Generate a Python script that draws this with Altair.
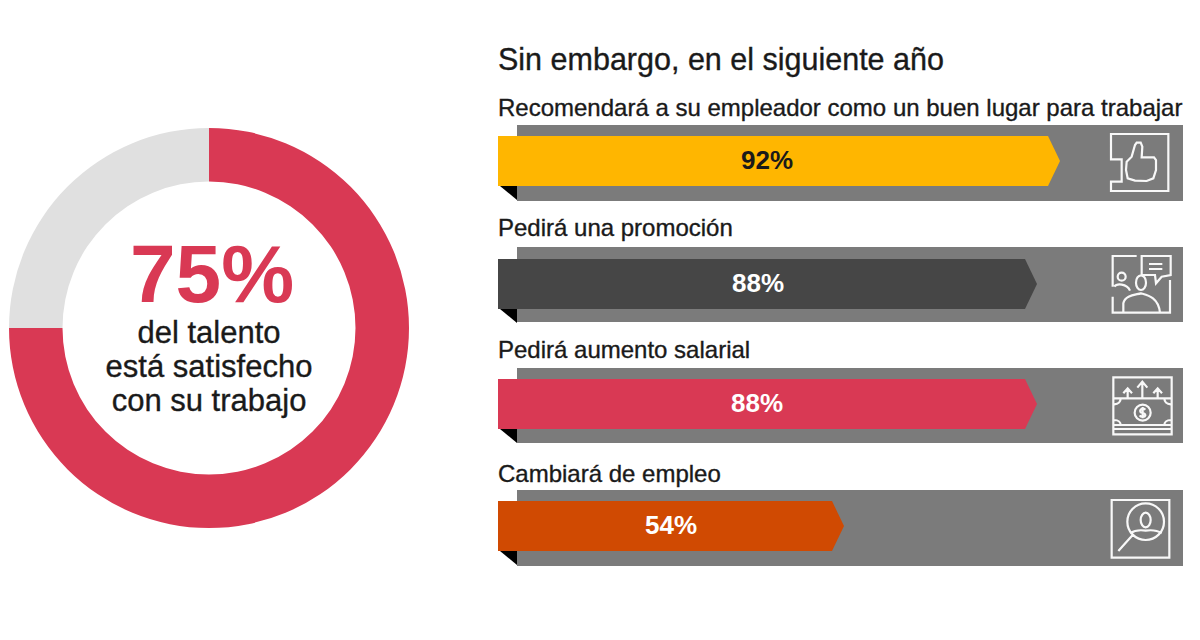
import re
import altair as alt
import pandas as pd

FONT = "Liberation Sans"
donut_labels = ["satisfecho", "resto"]
donut_values = [75, 25]
donut_colors = ["#d93954", "#e0e0e0"]

title_text = "Sin embargo, en el siguiente año"
bar_names = ["Recomendará a su empleador como un buen lugar para trabajar",
             "Pedirá una promoción", "Pedirá aumento salarial", "Cambiará de empleo"]
bar_labels = ["92%", "88%", "88%", "54%"]
bar_colors = ["#ffb600", "#464646", "#d93954", "#d04a02"]
label_colors = ["#1a1a1a", "#ffffff", "#ffffff", "#ffffff"]
bar_tips = [1060, 1037, 1037, 844]
bar_tops = [136, 259, 379, 501]
back_tops = [125, 247, 368, 490]
back_bottoms = [201, 322, 443, 566]
name_y = [116, 236, 358, 482]
label_x = [767, 758, 757, 671]


def ell(cx, cy, rx, ry):
    k = 0.5523
    return (f"M{cx-rx},{cy} C{cx-rx},{cy-k*ry} {cx-k*rx},{cy-ry} {cx},{cy-ry} "
            f"C{cx+k*rx},{cy-ry} {cx+rx},{cy-k*ry} {cx+rx},{cy} "
            f"C{cx+rx},{cy+k*ry} {cx+k*rx},{cy+ry} {cx},{cy+ry} "
            f"C{cx-k*rx},{cy+ry} {cx-rx},{cy+k*ry} {cx-rx},{cy} Z ")


def norm(path, cx, cy, half):
    def f(m):
        return f"{(float(m[1])-cx)/half:.4f},{(float(m[2])-cy)/half:.4f}"
    return re.sub(r"(-?[\d.]+),(-?[\d.]+)", f, path)


icon_thumb = ("M93,118 L93,42 L265,42 L265,213 L93,213 L93,185 L125,185 L125,118 Z "
              "M140,125 L155,110 L165,75 L170,68 L182,68 L187,80 L185,112 L222,112 L228,120 "
              "L228,150 L220,175 L200,183 L165,182 L143,175 L138,150 Z")
icon_people = ("M98,500 L98,408 L170,408 M185,408 L272,408 L272,465 L245,470 L228,490 L225,465 L185,465 Z "
               "M207,432 L247,432 M207,447 L247,447 M98,530 L98,578 L270,578 L270,480 "
               + ell(125, 470, 12, 12) + ell(183, 488, 15, 22) +
               "M103,500 C110,490 140,490 150,512 M130,578 L130,550 C135,525 165,525 183,520 "
               "C200,525 235,530 240,578")
icon_money = ("M100,37 L275,37 L275,208 L100,208 Z M100,100 L275,100 M100,180 L275,180 M100,192 L275,192 "
              "M187,97 L187,50 M172,68 L187,50 L202,68 M143,97 L143,70 M130,85 L143,70 L156,85 "
              "M233,97 L233,70 M220,85 L233,70 L246,85 "
              "M103,118 C115,118 122,110 122,100 M272,118 C260,118 253,110 253,100 "
              "M103,165 C115,165 122,172 122,180 M272,165 C260,165 253,172 253,180 "
              + ell(188, 143, 24, 24) +
              "M196,134 C190,128 178,132 181,140 C184,146 196,142 196,151 C194,158 182,156 179,151 M188,126 L188,160")
icon_search = ("M95,405 L268,405 L268,578 L95,578 Z " + ell(197, 470, 55, 55) + ell(197, 465, 15, 22) +
               "M150,505 C165,495 185,495 197,497 C210,495 230,495 245,505 M158,510 L115,558")
icons = [(icon_thumb, 179, 127), (icon_people, 185, 493), (icon_money, 187, 122), (icon_search, 181, 491)]
icon_origin = [(1080, 120), (1080, 120), (1080, 365), (1080, 365)]
HALF = 90  # half-size of icon box in zoom units

X = alt.Scale(domain=[8, 1192], nice=False, zero=False)
Y = alt.Scale(domain=[632, 8], nice=False, zero=False)


def ex(f="x"):
    return alt.X(f"{f}:Q", scale=X, axis=None)


def ey(f="y"):
    return alt.Y(f"{f}:Q", scale=Y, axis=None)


layers = []

# donut
d = pd.DataFrame({"label": donut_labels, "v": donut_values, "i": [0, 1], "x": [209, 209], "y": [328, 328]})
layers.append(alt.Chart(d).mark_arc(radius=200, radius2=146.5).encode(
    x=ex(), y=ey(),
    theta=alt.Theta("v:Q", stack=True), order=alt.Order("i:O"),
    color=alt.Color("label:N", scale=alt.Scale(domain=donut_labels, range=donut_colors), legend=None)))

# grey backs
backs = pd.DataFrame({"x": [517] * 4, "x2": [1183] * 4, "y": back_tops, "y2": back_bottoms})
layers.append(alt.Chart(backs).mark_rect(color="#7b7b7b").encode(
    x=ex(), x2="x2:Q", y=ey(), y2="y2:Q"))

# black folds and arrows
for i, (tip, top) in enumerate(zip(bar_tips, bar_tops)):
    b = top + 50
    fold = pd.DataFrame([dict(x=500, y=b, y2=b), dict(x=517, y=b, y2=b + 14)])
    layers.append(alt.Chart(fold).mark_area(color="#000000").encode(x=ex(), y=ey(), y2="y2:Q"))
    arrow = pd.DataFrame([dict(x=498, y=top, y2=b), dict(x=tip - 12, y=top, y2=b),
                          dict(x=tip, y=top + 25, y2=top + 25)])
    layers.append(alt.Chart(arrow).mark_area(color=bar_colors[i], opacity=1).encode(x=ex(), y=ey(), y2="y2:Q"))

# icons
for (path, cx, cy), (ox, oy) in zip(icons, icon_origin):
    pos = pd.DataFrame({"x": [ox + cx / 3], "y": [oy + cy / 3]})
    layers.append(alt.Chart(pos).mark_point(
        shape=norm(path, cx, cy, HALF), size=3600, filled=False, stroke="#ffffff",
        strokeWidth=2.2, opacity=0.95).encode(x=ex(), y=ey()))


def text(texts, xs, ys, size, bold=False, color="#1a1a1a", align="left", halo=0.35):
    df = pd.DataFrame({"t": texts, "x": xs, "y": ys})
    return alt.Chart(df).mark_text(font=FONT, fontSize=size, fontWeight="bold" if bold else "normal",
                                   align=align, baseline="alphabetic", color=color,
                                   stroke=color, strokeWidth=halo).encode(
        x=ex(), y=ey(), text="t:N")


layers.append(text([title_text], [498], [70], 30.5))
layers.append(text(bar_names, [498] * 4, name_y, 24))
for i in range(4):
    layers.append(text([bar_labels[i]], [label_x[i]], [bar_tops[i] + 33], 26, bold=True,
                       color=label_colors[i], align="center", halo=0))
layers.append(text(["75%"], [212], [302], 82, bold=True, color="#d93954", align="center", halo=0))
layers.append(text(["del talento", "está satisfecho", "con su trabajo"], [209] * 3, [343, 377, 411], 31, align="center"))

chart = alt.layer(*layers).properties(
    width=1184, height=624, padding=0, background="#ffffff"
).configure_view(stroke=None)
chart.save("out.html", embed_options={"renderer": "svg", "actions": False})
